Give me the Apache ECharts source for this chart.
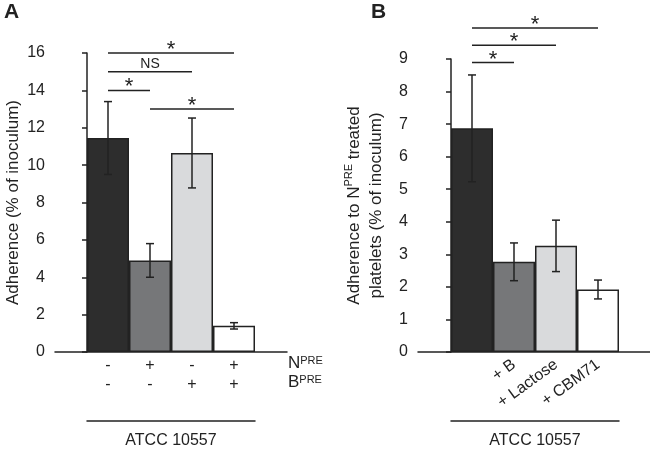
<!DOCTYPE html>
<html>
<head>
<meta charset="utf-8">
<script src="https://cdn.jsdelivr.net/npm/echarts@6/dist/echarts.min.js"></script>
<style>
  html, body { margin: 0; padding: 0; background: #fff; }
  #chart { width: 650px; height: 451px; }
</style>
</head>
<body>
<div id="chart"></div>
<script>
// panel A
const nPre = ['-', '+', '-', '+']
const bPre = ['-', '-', '+', '+']
const meanA = [11.45, 4.9, 10.65, 1.4]
const errA = [1.95, 0.9, 1.87, 0.17]
const sigA = [[0, 3, 16, '*'], [0, 2, 15, 'NS'], [0, 1, 14, '*'], [1, 3, 13, '*']]

// panel B
const catB = ['', '+ B', '+ Lactose', '+ CBM71']
const meanB = [6.87, 2.77, 3.26, 1.92]
const errB = [1.64, 0.58, 0.79, 0.29]
const sigB = [[0, 3, 9.95, '*'], [0, 2, 9.42, '*'], [0, 1, 8.89, '*']]

const barColors = ['#2d2d2d', '#767779', '#d9dadc', '#ffffff']
const ink = '#222'
const font = 'Liberation Sans'

const chart = echarts.init(document.getElementById('chart'))

function barSeries(means, xi, yi) {
  return {
    type: 'bar',
    xAxisIndex: xi,
    yAxisIndex: yi,
    barWidth: '100%',
    barCategoryGap: 0,
    data: means.map((v, i) => ({
      value: v,
      itemStyle: { color: barColors[i], borderColor: ink, borderWidth: 1.5 }
    })),
    silent: true,
    animation: false
  }
}

function errSeries(means, errs, xi, yi) {
  return {
    type: 'custom',
    xAxisIndex: xi,
    yAxisIndex: yi,
    data: means.map((v, i) => [i, v - errs[i], v + errs[i]]),
    renderItem(params, api) {
      const lo = api.coord([api.value(0), api.value(1)])
      const hi = api.coord([api.value(0), api.value(2)])
      const w = 4
      const st = { stroke: ink, lineWidth: 1.5 }
      return {
        type: 'group',
        children: [
          { type: 'line', shape: { x1: hi[0], y1: hi[1], x2: lo[0], y2: lo[1] }, style: st },
          { type: 'line', shape: { x1: hi[0] - w, y1: hi[1], x2: hi[0] + w, y2: hi[1] }, style: st },
          { type: 'line', shape: { x1: lo[0] - w, y1: lo[1], x2: lo[0] + w, y2: lo[1] }, style: st }
        ]
      }
    },
    z: 5,
    silent: true,
    animation: false
  }
}

function sigSeries(sig, xi, yi) {
  return {
    type: 'custom',
    xAxisIndex: xi,
    yAxisIndex: yi,
    data: sig.map(s => [s[0], s[1], s[2]]),
    encode: { x: [0, 1], y: 2 },
    renderItem(params, api) {
      const a = api.coord([api.value(0), api.value(2)])
      const b = api.coord([api.value(1), api.value(2)])
      const txt = sig[params.dataIndex][3]
      const isStar = txt === '*'
      return {
        type: 'group',
        children: [
          { type: 'line', shape: { x1: a[0], y1: a[1], x2: b[0], y2: b[1] }, style: { stroke: ink, lineWidth: 1.5 } },
          {
            type: 'text',
            x: (a[0] + b[0]) / 2,
            y: isStar ? a[1] - 3 : a[1] - 1,
            style: {
              text: txt,
              fill: ink,
              font: (isStar ? 22 : 14) + 'px "' + font + '"',
              align: 'center',
              verticalAlign: isStar ? 'middle' : 'bottom'
            }
          }
        ]
      }
    },
    silent: true,
    animation: false
  }
}

const valAxis = (grid, max, offset) => ({
  gridIndex: grid,
  type: 'value',
  min: 0,
  max: max,
  interval: max === 16 ? 2 : 1,
  offset: offset,
  axisLine: { show: true, lineStyle: { color: ink, width: 1.5 } },
  axisTick: { show: true, length: 5, lineStyle: { color: ink, width: 1.5 } },
  axisLabel: { color: ink, fontSize: 16, fontFamily: font, margin: 10 },
  splitLine: { show: false },
  nameLocation: 'middle',
  nameTextStyle: { color: ink, fontSize: 17, fontFamily: font }
})

const lineAxis = grid => ({
  gridIndex: grid,
  type: 'value',
  min: 0,
  max: 1,
  axisLine: { show: true, lineStyle: { color: ink, width: 1.5 } },
  axisTick: { show: false },
  axisLabel: { show: false },
  splitLine: { show: false }
})

const groupAxis = (grid, offset) => ({
  gridIndex: grid,
  type: 'value',
  min: 0,
  max: 1,
  position: 'bottom',
  offset: offset,
  axisLine: { show: true, lineStyle: { color: ink, width: 1.5 } },
  axisTick: { show: false },
  axisLabel: { show: false },
  splitLine: { show: false },
  name: 'ATCC 10557',
  nameLocation: 'middle',
  nameGap: 12,
  nameTextStyle: { color: ink, fontSize: 16, fontFamily: font, verticalAlign: 'top' }
})

const hidden = grid => ({ gridIndex: grid, type: 'value', min: 0, max: 1, show: false })

const rowLabel = (txt, left, top) => ({
  text: '{n|' + txt + '}{s|PRE}',
  left: left,
  top: top,
  padding: 0,
  textStyle: {
    fontWeight: 'normal',
    rich: {
      n: { fontSize: 17, fontFamily: font, color: ink, fontWeight: 'normal' },
      s: { fontSize: 11, fontFamily: font, color: ink, fontWeight: 'normal', verticalAlign: 'top', padding: [0, 0, 6, 0] }
    }
  }
})

const gridBox = (left, width, top) => ({
  left: left,
  width: width,
  top: top,
  bottom: 99,
  outerBoundsMode: 'none'
})

const option = {
  backgroundColor: '#fff',
  textStyle: { fontFamily: font },
  title: [
    { text: 'A', left: 4, top: 2, padding: 0, textStyle: { fontSize: 21, fontWeight: 'bold', color: ink, fontFamily: font } },
    { text: 'B', left: 371, top: 2, padding: 0, textStyle: { fontSize: 21, fontWeight: 'bold', color: ink, fontFamily: font } },
    rowLabel('N', 288, 355),
    rowLabel('B', 288, 374)
  ],
  grid: [
    gridBox(87, 168, 53),
    gridBox(55, 232, 53),
    gridBox(451, 168, 59),
    gridBox(418, 232, 59)
  ],
  xAxis: [
    {
      gridIndex: 0,
      type: 'category',
      data: nPre.map((n, i) => n + '\n' + bPre[i]),
      axisLine: { show: false },
      axisTick: { show: false },
      axisLabel: { color: ink, fontSize: 16, fontFamily: font, lineHeight: 19, margin: 4 }
    },
    groupAxis(0, 69),
    lineAxis(1),
    {
      gridIndex: 2,
      type: 'category',
      data: catB,
      axisLine: { show: false },
      axisTick: { show: false },
      axisLabel: { color: ink, fontSize: 16, fontFamily: font, rotate: 36, margin: 11, interval: 0 }
    },
    groupAxis(2, 69),
    lineAxis(3)
  ],
  yAxis: [
    Object.assign(valAxis(0, 16, 32), { name: 'Adherence (% of inoculum)', nameGap: 33 }),
    hidden(1),
    Object.assign(valAxis(2, 9, 33), {
      name: 'Adherence to N{s|PRE} treated\nplatelets (% of inoculum)',
      nameGap: 31,
      nameTextStyle: {
        color: ink, fontSize: 17, fontFamily: font, lineHeight: 22,
        rich: { s: { fontSize: 11, fontFamily: font, color: ink, verticalAlign: 'top', padding: [0, 0, 7, 0] } }
      }
    }),
    hidden(3)
  ],
  series: [
    barSeries(meanA, 0, 0),
    errSeries(meanA, errA, 0, 0),
    sigSeries(sigA, 0, 0),
    barSeries(meanB, 3, 2),
    errSeries(meanB, errB, 3, 2),
    sigSeries(sigB, 3, 2)
  ]
}

chart.setOption(option)
</script>
</body>
</html>
